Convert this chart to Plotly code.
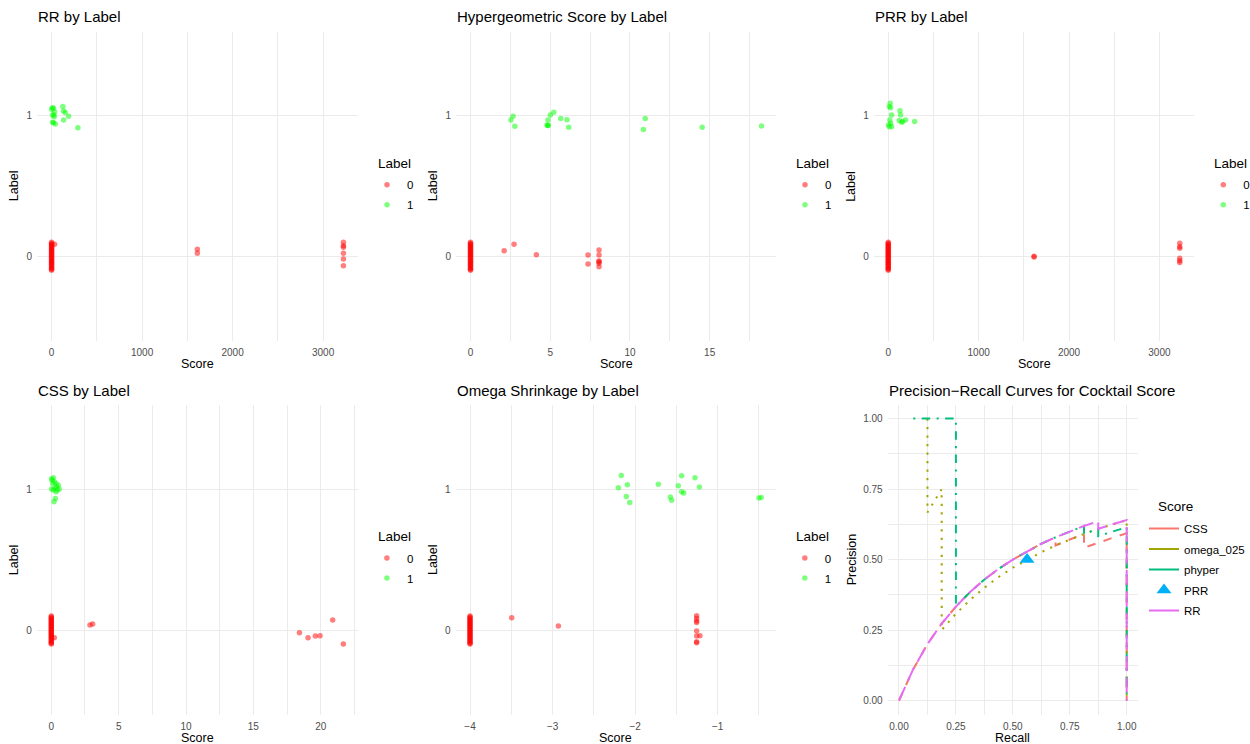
import plotly.graph_objects as go

W, H = 1250, 744
FONT = "Liberation Sans, Arial, Helvetica, sans-serif"
RED, GREEN = "#FF0000", "#00FF00"
GRID = "#EBEBEB"
TICK = "#4D4D4D"

# ---------------- data ----------------
label_ticks = ["0", "1"]

# jittered label positions of the many negatives whose score is the floor value
zero_jitter = [-0.100, -0.093, -0.086, -0.079, -0.071, -0.064, -0.057, -0.050, -0.043,
               -0.036, -0.029, -0.021, -0.014, -0.007, 0.000, 0.007, 0.014, 0.021,
               0.029, 0.036, 0.043, 0.050, 0.057, 0.064, 0.071, 0.079, 0.086, 0.093, 0.100]

# RR
rr_pos_score = [11, 22, 11, 33, 29, 22, 41, 125, 133, 151, 133, 188, 291, 11, 26, 0]
rr_pos_y = [1.059, 1.055, 1.007, 1.031, 0.995, 0.952, 0.943, 1.067, 1.036, 1.024, 0.971, 0.998, 0.917, 0.955, 1.007, 1.048]
rr_neg_score = [1611, 1611, 3225, 3225, 3225, 3225, 3225, 3225, 33]
rr_neg_y = [0.050, 0.021, 0.100, 0.076, 0.064, 0.021, -0.019, -0.067, 0.086]
rr_floor = 0

# Hypergeometric
hy_pos_score = [2.67, 2.53, 2.78, 4.84, 4.88, 4.80, 4.86, 5.01, 5.22, 5.66, 6.05, 6.16, 10.84, 10.96, 14.53, 18.25]
hy_pos_y = [0.998, 0.971, 0.926, 0.933, 0.933, 0.936, 0.971, 1.007, 1.026, 0.983, 0.974, 0.919, 0.903, 0.983, 0.919, 0.929]
hy_neg_score = [2.11, 2.73, 4.13, 7.37, 7.37, 8.06, 8.06, 8.06, 8.06, 8.06, 8.06]
hy_neg_y = [0.040, 0.086, 0.012, 0.010, -0.055, 0.045, 0.010, -0.033, -0.038, -0.050, -0.074]
hy_floor = 0

# PRR
prr_pos_score = [22, 11, 26, 37, 18, 11, 37, 26, 129, 137, 122, 148, 159, 192, 292, 4]
prr_pos_y = [1.090, 1.067, 1.059, 1.007, 0.971, 0.924, 0.924, 0.948, 1.038, 1.007, 0.967, 0.955, 0.960, 0.971, 0.960, 0.936]
prr_neg_score = [1613, 1613, 3225, 3225, 3225, 3225, 3225, 3225]
prr_neg_y = [0.000, -0.005, 0.093, 0.069, 0.057, -0.014, -0.031, -0.045]
prr_floor = 0

# CSS
css_pos_score = [0.02, 0.15, 0.22, 0.35, 0.52, 0.02, 0.27, 0.59, 0.35, 0.30, 0.20, 0.10, 0.40, 0.15, 0.07, 0.45]
css_pos_y = [1.071, 1.080, 1.052, 1.040, 1.028, 1.000, 1.005, 1.000, 0.981, 0.934, 0.910, 1.040, 1.017, 0.993, 1.064, 0.993]
css_neg_score = [2.87, 3.07, 18.42, 19.06, 19.60, 19.95, 20.89, 21.68, 0.22]
css_neg_y = [0.035, 0.043, -0.019, -0.054, -0.043, -0.040, 0.071, -0.099, -0.054]
css_floor = 0

# Omega shrinkage
om_pos_score = [-2.167, -2.203, -2.094, -2.107, -2.066, -1.719, -1.574, -1.557, -1.477, -1.437, -1.437, -1.412, -1.275, -1.222, -0.500, -0.472]
om_pos_y = [1.097, 1.009, 1.031, 0.948, 0.905, 1.035, 0.943, 0.920, 1.024, 1.095, 0.981, 0.972, 1.080, 1.014, 0.936, 0.941]
om_neg_score = [-3.495, -2.930, -1.255, -1.255, -1.255, -1.255, -1.255, -1.255, -1.215, -1.255, -1.255]
om_neg_y = [0.087, 0.028, 0.102, 0.083, 0.064, 0.054, -0.007, -0.043, -0.040, -0.083, -0.090]
om_floor = -4

# Precision-recall curves
pr_names = ["CSS", "omega_025", "phyper", "PRR", "RR"]
pr_colors = ["#F8766D", "#A3A500", "#00BF7D", "#00B0F6", "#E76BF3"]

css_recall = [0, 0.0625, 0.125, 0.1875, 0.25, 0.3125, 0.375, 0.4375, 0.5, 0.5625, 0.625, 0.6875,
              0.6875, 0.75, 0.8125, 0.8125, 0.875, 0.9375, 1.0, 1.0]
css_precision = [0, 0.111, 0.2, 0.273, 0.333, 0.385, 0.429, 0.467, 0.5, 0.529, 0.556, 0.579,
                 0.55, 0.571, 0.591, 0.542, 0.56, 0.577, 0.593, 0.0]

omega_recall = [0.125, 0.125, 0.1875, 0.1875, 0.25, 0.3125, 0.375, 0.4375, 0.5, 0.5625, 0.625,
                0.6875, 0.75, 0.8125, 0.875, 0.9375, 1.0, 1.0]
omega_precision = [1.0, 0.667, 0.75, 0.25, 0.308, 0.357, 0.4, 0.438, 0.471, 0.5, 0.526,
                   0.55, 0.571, 0.591, 0.609, 0.625, 0.64, 0.0]

phyper_recall = [0.0625, 0.125, 0.1875, 0.25, 0.25, 0.3125, 0.375, 0.4375, 0.5, 0.5625, 0.625,
                 0.6875, 0.75, 0.8125, 0.8125, 0.875, 0.875, 0.9375, 1.0, 1.0]
phyper_precision = [1, 1, 1, 1, 0.333, 0.385, 0.429, 0.467, 0.5, 0.529, 0.556,
                    0.579, 0.6, 0.619, 0.591, 0.609, 0.583, 0.6, 0.615, 0.0]

prr_recall = [0.5625]
prr_precision = [0.5]

rr_recall = [0, 0.0625, 0.125, 0.1875, 0.25, 0.3125, 0.375, 0.4375, 0.5, 0.5625, 0.625, 0.6875,
             0.75, 0.8125, 0.875, 0.875, 0.9375, 1.0, 1.0]
rr_precision = [0, 0.111, 0.2, 0.273, 0.333, 0.385, 0.429, 0.467, 0.5, 0.529, 0.556, 0.579,
                0.6, 0.619, 0.636, 0.609, 0.625, 0.64, 0.0]

# ---------------- layout helpers ----------------
def fx(p):
    return p / W


def fy(p):
    return 1 - p / H


TOP = (31.8, 340.5)
BOT = (404.5, 714.6)
panels = [
    dict(title="RR by Label", x=(37.0, 358.0), y=TOP, rng=(-161, 3386), dtick=1000, minor=500,
         pos=(rr_pos_score, rr_pos_y), neg=(rr_neg_score, rr_neg_y), floor=rr_floor),
    dict(title="Hypergeometric Score by Label", x=(456.0, 776.0), y=TOP, rng=(-0.91, 19.16), dtick=5, minor=2.5,
         pos=(hy_pos_score, hy_pos_y), neg=(hy_neg_score, hy_neg_y), floor=hy_floor),
    dict(title="PRR by Label", x=(873.7, 1194.3), y=TOP, rng=(-161, 3386), dtick=1000, minor=500,
         pos=(prr_pos_score, prr_pos_y), neg=(prr_neg_score, prr_neg_y), floor=prr_floor),
    dict(title="CSS by Label", x=(36.7, 357.9), y=BOT, rng=(-1.084, 22.76), dtick=5, minor=2.5,
         pos=(css_pos_score, css_pos_y), neg=(css_neg_score, css_neg_y), floor=css_floor),
    dict(title="Omega Shrinkage by Label", x=(455.5, 775.8), y=BOT, rng=(-4.176, -0.296), dtick=1, minor=0.5,
         pos=(om_pos_score, om_pos_y), neg=(om_neg_score, om_neg_y), floor=om_floor),
]

fig = go.Figure()
layout = dict(
    width=W, height=H, margin=dict(l=0, r=0, t=0, b=0, autoexpand=False),
    paper_bgcolor="white", plot_bgcolor="white",
    font=dict(family=FONT, size=10, color="black"),
    showlegend=True,
)
annotations = []

axis_common = dict(showline=False, zeroline=False, showgrid=True, gridcolor=GRID, gridwidth=1,
                   ticks="outside", ticklen=2, tickcolor="rgba(0,0,0,0)",
                   tickfont=dict(family=FONT, size=10, color=TICK))

LEG_FONT = dict(family=FONT, size=11.5, color="black")
LEG_TITLE = dict(family=FONT, size=13.5, color="black")

for i, p in enumerate(panels, start=1):
    xa = "xaxis" if i == 1 else f"xaxis{i}"
    ya = "yaxis" if i == 1 else f"yaxis{i}"
    xr = "x" if i == 1 else f"x{i}"
    yr = "y" if i == 1 else f"y{i}"
    lg = "legend" if i == 1 else f"legend{i}"
    layout[xa] = dict(axis_common, domain=[fx(p["x"][0]), fx(p["x"][1])], anchor=yr,
                      range=list(p["rng"]), tick0=0, dtick=p["dtick"], tickformat="d" if p["dtick"] >= 1000 else "",
                      minor=dict(dtick=p["minor"], tick0=0, showgrid=True, gridcolor=GRID, gridwidth=1, ticks=""))
    layout[ya] = dict(axis_common, domain=[fy(p["y"][1]), fy(p["y"][0])], anchor=xr,
                      range=[-0.6, 1.6], tickvals=[0, 1], ticktext=label_ticks)
    neg_x = [p["floor"] for _ in zero_jitter] + list(p["neg"][0])
    neg_y = list(zero_jitter) + list(p["neg"][1])
    fig.add_trace(go.Scatter(x=neg_x, y=neg_y, mode="markers", name="0", xaxis=xr, yaxis=yr,
                             marker=dict(color=RED, opacity=0.5, size=5.5, line=dict(width=0)),
                             legend=lg, legendgroup=f"{i}-0", hoverinfo="skip"))
    fig.add_trace(go.Scatter(x=list(p["pos"][0]), y=list(p["pos"][1]), mode="markers", name="1",
                             xaxis=xr, yaxis=yr,
                             marker=dict(color=GREEN, opacity=0.5, size=5.5, line=dict(width=0)),
                             legend=lg, legendgroup=f"{i}-1", hoverinfo="skip"))
    # title and axis titles
    tx = p["x"][0] - 1
    ty = 17 if p["y"] == TOP else 390
    annotations.append(dict(text=p["title"], x=fx(tx), y=fy(ty), xref="paper", yref="paper",
                            xanchor="left", yanchor="middle", showarrow=False,
                            font=dict(family=FONT, size=15, color="black")))
    cx = (p["x"][0] + p["x"][1]) / 2
    sy = 364 if p["y"] == TOP else 738
    annotations.append(dict(text="Score", x=fx(cx), y=fy(sy), xref="paper", yref="paper",
                            xanchor="center", yanchor="middle", showarrow=False,
                            font=dict(family=FONT, size=12.5, color="black")))
    cy = (p["y"][0] + p["y"][1]) / 2
    lx = p["x"][0] - 23
    annotations.append(dict(text="Label", x=fx(lx), y=fy(cy), xref="paper", yref="paper",
                            xanchor="center", yanchor="middle", showarrow=False, textangle=-90,
                            font=dict(family=FONT, size=12.5, color="black")))
    # legend
    legx = p["x"][1] + 9
    legy = (p["y"][0] + p["y"][1]) / 2 - 16
    layout[lg] = dict(x=fx(legx), y=fy(legy), xanchor="left", yanchor="top",
                      bgcolor="rgba(0,0,0,0)", font=LEG_FONT, itemwidth=30, tracegroupgap=1)
    annotations.append(dict(text="Label", x=fx(p["x"][1] + 18), y=fy(cy - 23), xref="paper", yref="paper",
                            xanchor="left", yanchor="middle", showarrow=False, font=LEG_TITLE))

# ---------------- PR panel ----------------
PX = (887.6, 1138.1)
layout["xaxis6"] = dict(axis_common, domain=[fx(PX[0]), fx(PX[1])], anchor="y6", range=[-0.05, 1.05],
                        tick0=0, dtick=0.25, tickformat=".2f",
                        minor=dict(dtick=0.125, tick0=0, showgrid=True, gridcolor=GRID, gridwidth=1, ticks=""))
layout["yaxis6"] = dict(axis_common, domain=[fy(BOT[1]), fy(BOT[0])], anchor="x6", range=[-0.05, 1.05],
                        tick0=0, dtick=0.25, tickformat=".2f",
                        minor=dict(dtick=0.125, tick0=0, showgrid=True, gridcolor=GRID, gridwidth=1, ticks=""))

curves = [
    ("CSS", css_recall, css_precision, "8.5px,8.5px"),
    ("omega_025", omega_recall, omega_precision, "2.1px,6.4px"),
    ("phyper", phyper_recall, phyper_precision, "2.1px,6.4px,8.5px,6.4px"),
]
for (name, rx, ry, dash), col in zip(curves, pr_colors[:3]):
    fig.add_trace(go.Scatter(x=rx, y=ry, mode="lines", name=name, xaxis="x6", yaxis="y6",
                             line=dict(color=col, width=2, dash=dash), showlegend=False, hoverinfo="skip"))
fig.add_trace(go.Scatter(x=prr_recall, y=prr_precision, mode="markers", name="PRR", xaxis="x6", yaxis="y6",
                         marker=dict(color=pr_colors[3], symbol="triangle-up", size=13, line=dict(width=0)),
                         showlegend=False, hoverinfo="skip"))
fig.add_trace(go.Scatter(x=rr_recall, y=rr_precision, mode="lines", name="RR", xaxis="x6", yaxis="y6",
                         line=dict(color=pr_colors[4], width=2, dash="15px,6.5px"), showlegend=False,
                         hoverinfo="skip"))
# legend keys
for name, col in zip(pr_names, pr_colors):
    if name == "PRR":
        fig.add_trace(go.Scatter(x=[None], y=[None], mode="markers", name=name, xaxis="x6", yaxis="y6",
                                 marker=dict(color=col, symbol="triangle-up", size=13), legend="legend6",
                                 legendgroup="pr-" + name))
    else:
        fig.add_trace(go.Scatter(x=[None], y=[None], mode="lines", name=name, xaxis="x6", yaxis="y6",
                                 line=dict(color=col, width=2), legend="legend6", legendgroup="pr-" + name))

layout["legend6"] = dict(x=fx(1144), y=fy(514), xanchor="left", yanchor="top",
                         bgcolor="rgba(0,0,0,0)", font=LEG_FONT, itemwidth=30, tracegroupgap=1.5)

annotations += [
    dict(text="Precision\u2212Recall Curves for Cocktail Score", x=fx(PX[0] - 1), y=fy(390), xref="paper",
         yref="paper", xanchor="left", yanchor="middle", showarrow=False,
         font=dict(family=FONT, size=15, color="black")),
    dict(text="Recall", x=fx((PX[0] + PX[1]) / 2), y=fy(738), xref="paper", yref="paper",
         xanchor="center", yanchor="middle", showarrow=False, font=dict(family=FONT, size=12.5, color="black")),
    dict(text="Precision", x=fx(851.7), y=fy((BOT[0] + BOT[1]) / 2), xref="paper", yref="paper",
         xanchor="center", yanchor="middle", showarrow=False, textangle=-90,
         font=dict(family=FONT, size=12.5, color="black")),
    dict(text="Score", x=fx(1156), y=fy(506.5), xref="paper", yref="paper",
         xanchor="left", yanchor="middle", showarrow=False, font=LEG_TITLE),
]
layout["annotations"] = annotations
fig.update_layout(**layout)
fig.write_html("out.html", config={"displayModeBar": False},
               post_script="document.body.style.margin='0px';")
